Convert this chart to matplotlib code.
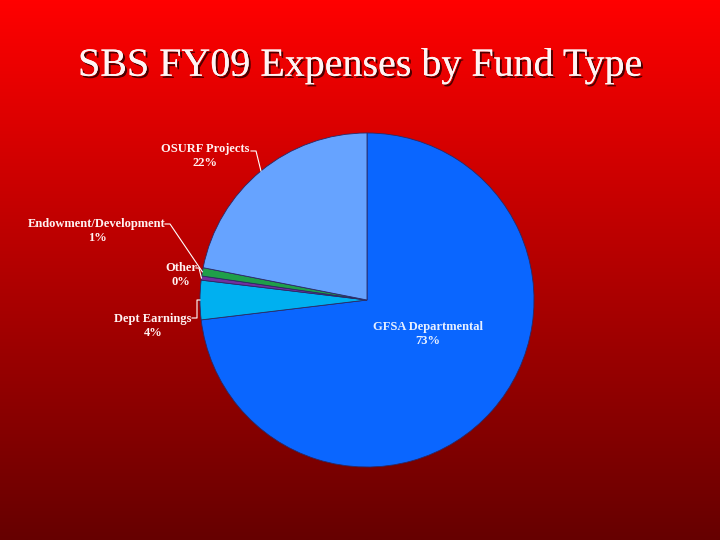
import numpy as np
import matplotlib
matplotlib.use('Agg')
import matplotlib.pyplot as plt
import matplotlib.patheffects as pe

# ---- data ----
categories = ['GFSA Departmental', 'Dept Earnings', 'Other',
              'Endowment/Development', 'OSURF Projects']
values = [73.1, 3.8, 0.4, 0.8, 21.9]
colors = ['#0a66ff', '#00b0f0', '#7030a0', '#1f9f4a', '#66a3ff']
title = 'SBS FY09 Expenses by Fund Type'

# ---- layout (pixels) ----
W, H = 720, 540
cx, cy, r = 367, 300, 167
label_pos = {
    'GFSA Departmental': (428, 327),
    'Dept Earnings': (153, 319),
    'Other': (181, 268),
    'Endowment/Development': (97, 224),
    'OSURF Projects': (205, 149),
}
leaders = {
    'Dept Earnings': [(192, 318), (197, 318), (197, 300)],
    'Other': [(196, 268), (199, 268)],
    'Endowment/Development': [(165, 224), (170, 224)],
    'OSURF Projects': [(251, 151), (256, 151)],
}

fig = plt.figure(figsize=(W / 100, H / 100), dpi=100)

# background gradient
bg = fig.add_axes([0, 0, 1, 1])
t = np.linspace(0, 1, 512)[:, None, None]
top = np.array([1.0, 0.0, 0.0])
bot = np.array([0.40, 0.0, 0.0])
img = top * (1 - t) + bot * t
bg.imshow(img, aspect='auto', extent=[0, 1, 0, 1], interpolation='bilinear')
bg.set_xlim(0, 1); bg.set_ylim(0, 1)
bg.axis('off')

# title with shadow
fig.text(360 / W, 1 - 66 / H, title, ha='center', va='center',
         fontsize=28.8, family='Liberation Serif', color='#fff4f4',
         path_effects=[pe.withSimplePatchShadow(offset=(1.5, -1.5),
                                                shadow_rgbFace='#3a0000', alpha=0.9),
                       pe.Normal()])

# pie axes
ax = fig.add_axes([(cx - r) / W, 1 - (cy + r) / H, 2 * r / W, 2 * r / H])
wedges, _ = ax.pie(values, colors=colors, startangle=90, counterclock=False,
                   radius=1, wedgeprops=dict(edgecolor='#2a2a66', linewidth=0.6))
ax.set_xlim(-1, 1); ax.set_ylim(-1, 1)
ax.axis('off')


def d(p):
    return ((p[0] - cx) / r, (cy - p[1]) / r)


txtcol = '#fff2f2'
for w, cat, v in zip(wedges, categories, values):
    lx, ly = label_pos[cat]
    col = '#e8f0ff' if cat == 'GFSA Departmental' else txtcol
    x, y = d((lx, ly))
    ax.text(x, y, cat, ha='center', va='center', fontsize=9, fontweight='bold',
            family='Liberation Serif', color=col, clip_on=False)
    x2, y2 = d((lx, ly + 14))
    ax.text(x2, y2, '%.0f%%' % v, ha='center', va='center', fontsize=9,
            fontweight='bold', family='Liberation Serif', color=col, clip_on=False)
    if cat in leaders:
        mid = np.deg2rad((w.theta1 + w.theta2) / 2)
        pts = [d(p) for p in leaders[cat]] + [(np.cos(mid), np.sin(mid))]
        xs, ys = zip(*pts)
        ax.plot(xs, ys, color='white', lw=0.8, clip_on=False)

fig.savefig('out.png', dpi=100)
